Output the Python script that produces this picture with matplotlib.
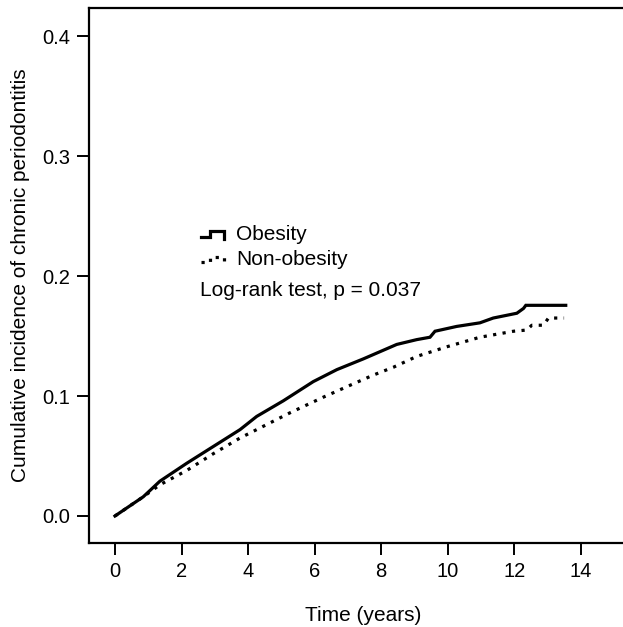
import matplotlib
matplotlib.use("Agg")
import matplotlib.pyplot as plt
from matplotlib.lines import Line2D
from matplotlib.legend_handler import HandlerBase

plt.rcParams['font.family'] = ['Liberation Sans', 'DejaVu Sans']

# Kaplan-Meier style cumulative incidence
obesity_t = [0.0, 0.85, 1.35, 2.16, 2.96, 3.76, 4.26, 5.06, 5.96, 6.67, 7.47,
             8.47, 9.07, 9.47, 9.62, 10.27, 10.97, 11.37, 12.08, 12.28, 12.35, 13.55]
obesity_y = [0.0, 0.016, 0.029, 0.044, 0.058, 0.072, 0.083, 0.096, 0.112, 0.122, 0.131,
             0.143, 0.147, 0.149, 0.154, 0.158, 0.161, 0.165, 0.169, 0.173, 0.1756, 0.1756]

nonobesity_t = [0.0, 0.85, 1.35, 2.16, 2.96, 3.76, 4.26, 5.26, 6.26, 7.07, 7.77,
                8.37, 9.07, 9.97, 10.97, 11.98, 12.38, 12.53, 12.88, 13.03, 13.5]
nonobesity_y = [0.0, 0.016, 0.026, 0.038, 0.052, 0.065, 0.072, 0.086, 0.099, 0.109, 0.1175,
                0.124, 0.133, 0.141, 0.149, 0.154, 0.155, 0.159, 0.159, 0.165, 0.165]

x_ticks = [0, 2, 4, 6, 8, 10, 12, 14]
y_ticks = [0.0, 0.1, 0.2, 0.3, 0.4]


class StepHandler(HandlerBase):
    """Legend glyph drawn as a small step, like SPSS survival plots"""
    def create_artists(self, legend, orig_handle, xdescent, ydescent,
                       width, height, fontsize, trans):
        x0 = -xdescent
        lo = -ydescent + 0.2 * height
        hi = -ydescent + 0.6 * height
        xs = [x0, x0 + 0.42 * width, x0 + 0.42 * width, x0 + width, x0 + width]
        ys = [lo, lo, hi, hi, lo - 0.1 * height]
        line = Line2D(xs, ys)
        line.update_from(orig_handle)
        line.set_transform(trans)
        return [line]


fig = plt.figure(figsize=(6.23, 6.27), dpi=100)
# right edge of the frame runs off the picture, as in the original
ax = fig.add_axes([0.1429, 0.134, 0.88, 0.853])

ax.plot(obesity_t, obesity_y, color='black', lw=2.3, solid_joinstyle='miter',
        label='Obesity')
ax.plot(nonobesity_t, nonobesity_y, color='black', lw=2.3,
        linestyle=(0, (1, 2)), label='Non-obesity')

ax.set_xlim(-0.78, 15.7)
ax.set_ylim(-0.0225, 0.4233)
ax.set_xticks(x_ticks)
ax.set_yticks(y_ticks)
ax.set_yticklabels([f'{v:.1f}' for v in y_ticks])

for s in ax.spines.values():
    s.set_linewidth(1.6)
ax.spines['right'].set_visible(False)
ax.tick_params(direction='out', length=8.5, width=1.4, labelsize=14.5, pad=5)

ax.set_xlabel('Time (years)', fontsize=15, labelpad=18)
ax.set_ylabel('Cumulative incidence of chronic periodontitis', fontsize=15, labelpad=9)

handles, labels = ax.get_legend_handles_labels()
ax.legend(handles, labels, handler_map={h: StepHandler() for h in handles},
          loc='center left', bbox_to_anchor=(0.185, 0.553), frameon=False,
          fontsize=15, handlelength=1.1, handletextpad=0.6, labelspacing=0.3,
          borderpad=0)

ax.text(0.203, 0.472, 'Log-rank test, p = 0.037', transform=ax.transAxes,
        fontsize=15, va='center', ha='left')

fig.savefig('out.png', dpi=100)
